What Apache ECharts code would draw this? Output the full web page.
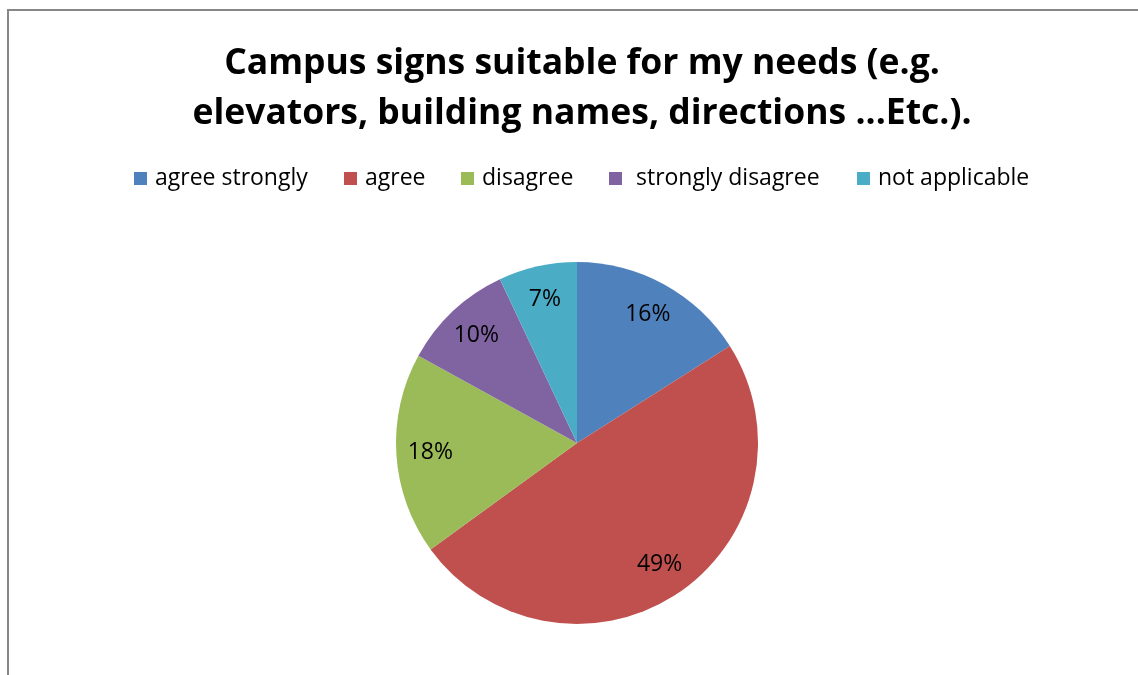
<!DOCTYPE html>
<html><head><meta charset="utf-8">
<script src="https://cdn.jsdelivr.net/npm/echarts@6/dist/echarts.min.js"></script>
<style>
html,body{margin:0;padding:0;background:#fff;}
#frame{position:absolute;left:7px;top:9px;width:1200px;height:700px;border-left:2px solid #878787;border-top:2px solid #878787;}
#c{position:absolute;left:0;top:0;width:1138px;height:675px;}
</style></head>
<body>
<div id="frame"></div>
<div id="c"></div>
<script>
const titleText = 'Campus signs suitable for my needs (e.g.\nelevators, building names, directions ...Etc.).';
const categories = ['agree strongly', 'agree', 'disagree', 'strongly disagree', 'not applicable'];
const legendLabels = ['agree strongly', 'agree', 'disagree', ' strongly disagree', 'not applicable'];
const values = [16, 49, 18, 10, 7];
const colors = ['#4F81BD', '#C0504D', '#9BBB59', '#8064A2', '#4BACC6'];
const legendLefts = [134, 344, 461, 609, 857];

const FONT = 'Open Sans';
const chart = echarts.init(document.getElementById('c'), null, {renderer: 'canvas'});
const data = categories.map((n, i) => ({name: n, value: values[i], itemStyle: {color: colors[i]}}));
const legends = categories.map((n, i) => ({
  data: [{name: n, itemStyle: {color: colors[i]}}],
  left: legendLefts[i], top: 167, padding: 0,
  itemWidth: 13, itemHeight: 13, itemGap: 0,
  icon: 'rect',
  formatter: () => legendLabels[i],
  textStyle: {fontFamily: FONT, fontSize: 23, color: '#000', padding: [0, 0, 0, 3]},
  selectedMode: false
}));
chart.setOption({
  animation: false,
  backgroundColor: 'transparent',
  title: {
    text: titleText, left: 577, top: 34, textAlign: 'center',
    textStyle: {fontFamily: FONT, fontWeight: 'bold', fontSize: 35.5, lineHeight: 50, color: '#000'}
  },
  legend: legends,
  series: [
    {
      type: 'pie', center: [577, 443], radius: [0, 181], startAngle: 90, clockwise: true,
      data: data, label: {show: false}, labelLine: {show: false},
      itemStyle: {borderWidth: 0}, silent: true
    },
    {
      type: 'pie', center: [577, 443], radius: [107, 181], startAngle: 90, clockwise: true,
      data: categories.map((n, i) => ({name: n + ' ', value: values[i]})),
      itemStyle: {color: 'rgba(0,0,0,0)', borderWidth: 0},
      label: {show: true, position: 'inside', formatter: p => p.value + '%', fontFamily: FONT, fontSize: 23, color: '#000'},
      labelLine: {show: false}, silent: true
    }
  ]
});
</script>
</body></html>
